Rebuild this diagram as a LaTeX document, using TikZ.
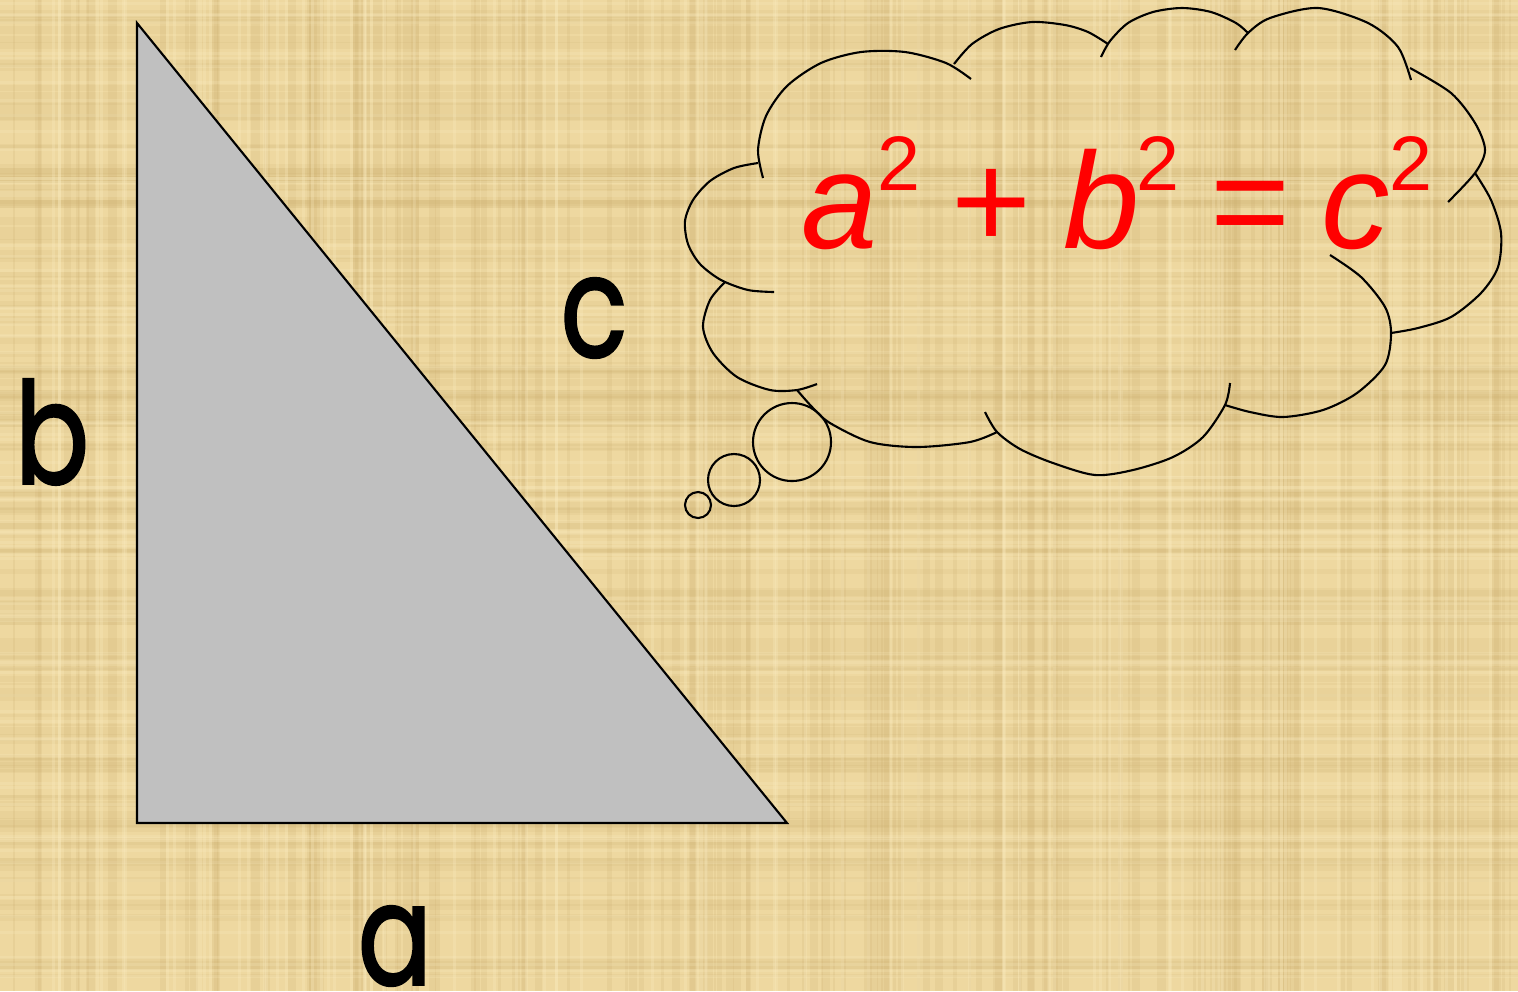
\documentclass[tikz,border=0pt]{standalone}
\usepackage{fontspec}
\usepackage{xcolor}
\usepackage{tikz}
\usetikzlibrary{positioning}
\newfontfamily\labelfont[FakeBold=2]{Poppins}
\newfontfamily\eqfont{Liberation Sans}
\definecolor{papyrus}{RGB}{238, 216, 160}
\definecolor{fiberdark}{RGB}{200, 170, 105}
\definecolor{fiberlight}{RGB}{252, 238, 195}
\definecolor{trigray}{RGB}{192, 192, 192}
\definecolor{eqred}{RGB}{255, 0, 0}
\newcommand{\sqtwo}{\raisebox{16.5pt}{\upshape\fontsize{22}{22}\selectfont 2}}
\newcommand{\narrow}[1]{\scalebox{0.78}[1]{#1}}

\begin{document}
\begin{tikzpicture}[
  x=0.1mm, y=-0.1mm,
  side/.style={inner sep=0pt, font=\labelfont\fontsize{40}{48}\selectfont},
  eq/.style={inner sep=0pt, text=eqred, font=\eqfont\fontsize{39}{46}\selectfont},
  tri/.style={draw, line width=0.6pt, fill=trigray},
  lobe/.style={draw, line width=0.6pt},
  bubble/.style={circle, draw, line width=0.6pt, inner sep=0pt}
]

% Background with a light papyrus grain
\useasboundingbox (0,0) rectangle (1518,991);
\fill[papyrus] (0,0) rectangle (1518,991);
\pgfmathsetseed{17}
\foreach \k in {1,...,140}{
  \pgfmathsetmacro{\fx}{rnd*1510}
  \pgfmathsetmacro{\fw}{2+rnd*7}
  \fill[fiberdark, opacity=0.16] (\fx,0) rectangle ++(\fw,991);
  \pgfmathsetmacro{\fy}{rnd*985}
  \pgfmathsetmacro{\fh}{2+rnd*7}
  \fill[fiberdark, opacity=0.12] (0,\fy) rectangle ++(1518,\fh);
}
\foreach \k in {1,...,90}{
  \pgfmathsetmacro{\fx}{rnd*1510}
  \pgfmathsetmacro{\fy}{rnd*985}
  \fill[fiberlight, opacity=0.25] (\fx,0) rectangle ++(3,991);
  \fill[fiberlight, opacity=0.2] (0,\fy) rectangle ++(1518,3);
}

% Right triangle
\coordinate (top) at (137,23);
\coordinate (corner) at (137,823);
\coordinate (tip) at (787,823);
\draw[tri] (top) -- (corner) -- (tip) -- cycle;

% Side labels
\node[side] (lblB) at (52,432) {\narrow{b}};
\node[side] (lblC) at (594,318) {\narrow{c}};
\node[side] (lblA) at (395,946) {\narrow{a}};

% Thought cloud, one lobe at a time
\draw[lobe] plot[smooth] coordinates {(774,292) (748,290) (721,280) (700,264) (688,244) (685,221) (693,200) (710,181) (734,168) (758,163)};
\draw[lobe] plot[smooth] coordinates {(763,178) (758,150) (766,116) (787,86) (821,63) (861,52) (905,52) (946,63) (971,79)};
\draw[lobe] plot[smooth] coordinates {(954,64) (972,44) (999,29) (1032,22) (1065,25) (1088,32) (1108,44)};
\draw[lobe] plot[smooth] coordinates {(1101,57) (1110,41) (1128,23) (1153,12) (1182,8) (1211,12) (1236,23) (1248,33)};
\draw[lobe] plot[smooth] coordinates {(1235,50) (1248,33) (1270,18) (1318,8) (1368,23) (1398,47) (1411,80)};
\draw[lobe] plot[smooth] coordinates {(1410,68) (1451,93) (1475,123) (1485,150) (1475,173) (1448,202)};
\draw[lobe] plot[smooth] coordinates {(1475,173) (1491,200) (1501,233) (1498,267) (1481,293) (1451,317) (1418,328) (1391,333)};
\draw[lobe] plot[smooth] coordinates {(1330,255) (1361,277) (1385,307) (1391,333) (1385,365) (1357,393) (1323,410) (1283,417) (1250,412) (1225,405)};
\draw[lobe] plot[smooth] coordinates {(1230,383) (1225,405) (1203,437) (1173,457) (1133,470) (1095,475) (1053,463) (1020,449) (997,432) (985,412)};
\draw[lobe] plot[smooth] coordinates {(997,432) (970,442) (917,447) (870,442) (830,423) (813,408) (797,390)};
\draw[lobe] plot[smooth] coordinates {(817,384) (797,390) (770,390) (737,377) (713,353) (703,327) (710,300) (725,282)};

% Puffs leading to the cloud
\node[bubble, minimum size=7.8mm] (puff1) at (792,442) {};
\node[bubble, minimum size=5.2mm] (puff2) at (734,480) {};
\node[bubble, minimum size=2.6mm] (puff3) at (698,505) {};

% Equation
\node[eq, anchor=base west] (pyth) at (801,248)
  {{\itshape a}\sqtwo\hspace{3.1mm}+\hspace{3.1mm}{\itshape b}\hspace{-0.3mm}\sqtwo\hspace{3.1mm}=\hspace{3.1mm}{\itshape c}\sqtwo};

\end{tikzpicture}
\end{document}
